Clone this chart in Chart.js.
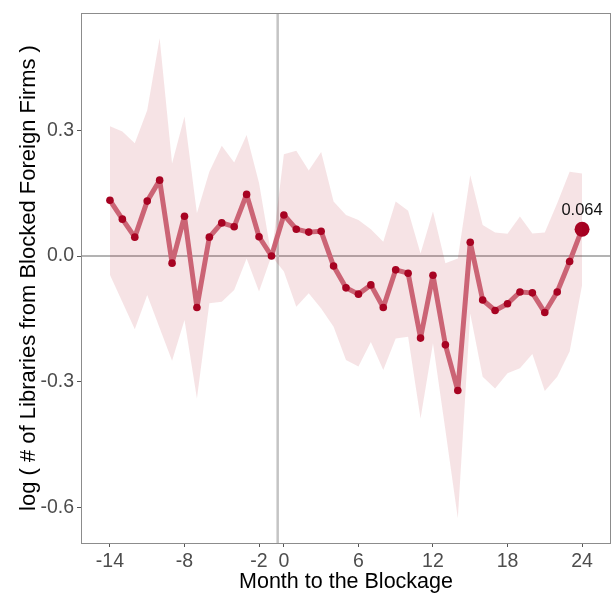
<!DOCTYPE html>
<html>
<head>
<meta charset="utf-8">
<script src="https://cdn.jsdelivr.net/npm/chart.js@4.4.1/dist/chart.umd.min.js"></script>
<style>
  html, body { margin: 0; padding: 0; background: #fff; }
  #wrap { width: 611px; height: 595px; }
</style>
</head>
<body>
<div id="wrap"><canvas id="blockage-chart" width="611" height="595"></canvas></div>
<script>
// event-study estimates, months relative to the blockage (-1 is the reference month)
const months = [-14, -13, -12, -11, -10, -9, -8, -7, -6, -5, -4, -3, -2, -1,
                 0, 1, 2, 3, 4, 5, 6, 7, 8, 9, 10, 11, 12, 13, 14, 15,
                 16, 17, 18, 19, 20, 21, 22, 23, 24];
const estimate = [0.133, 0.088, 0.045, 0.131, 0.181, -0.017, 0.095, -0.123, 0.045, 0.079, 0.070, 0.147, 0.046, 0.0,
                  0.098, 0.064, 0.057, 0.059, -0.024, -0.076, -0.091, -0.069, -0.123, -0.033, -0.041, -0.196, -0.046, -0.212, -0.321, 0.033,
                  -0.105, -0.130, -0.114, -0.086, -0.088, -0.135, -0.086, -0.013, 0.064];
const ciUpper = [0.310, 0.297, 0.269, 0.348, 0.520, 0.221, 0.333, 0.102, 0.201, 0.263, 0.223, 0.289, 0.174, 0.0,
                 0.243, 0.251, 0.204, 0.248, 0.130, 0.098, 0.086, 0.064, 0.034, 0.130, 0.108, 0.006, 0.106, -0.017, -0.006, 0.193,
                 0.074, 0.056, 0.053, 0.094, 0.054, 0.056, 0.126, 0.201, 0.197];
const ciLower = [-0.045, -0.110, -0.175, -0.093, -0.172, -0.250, -0.153, -0.340, -0.113, -0.109, -0.081, -0.006, -0.085, 0.0,
                 -0.037, -0.121, -0.089, -0.125, -0.169, -0.248, -0.264, -0.205, -0.272, -0.197, -0.193, -0.388, -0.208, -0.415, -0.626, -0.137,
                 -0.288, -0.316, -0.280, -0.268, -0.234, -0.322, -0.288, -0.228, -0.070];

const xTicks = [-14, -8, -2, 0, 6, 12, 18, 24];
const yTicks = [-0.6, -0.3, 0.0, 0.3];
const blockageMonth = -0.5;

const toPoints = (vals) => months.map((m, i) => ({ x: m, y: vals[i] }));

const lineColor = '#cf6f80';
const pointColor = '#a50021';
const bandColor = 'rgba(178, 24, 43, 0.12)';
const fontFamily = "'Liberation Sans', Arial, sans-serif";
const tickFont = { family: fontFamily, size: 19.5 };

// panel frame plus the zero line and the blockage line
const panelPlugin = {
    id: 'panel',
    beforeDatasetsDraw(chart) {
        const { ctx, chartArea, scales } = chart;
        ctx.save();
        ctx.strokeStyle = '#b3b3b3';
        ctx.lineWidth = 2;
        const y0 = scales.y.getPixelForValue(0);
        ctx.beginPath();
        ctx.moveTo(chartArea.left, y0);
        ctx.lineTo(chartArea.right, y0);
        ctx.stroke();
        const xb = scales.x.getPixelForValue(blockageMonth);
        ctx.strokeStyle = '#c4c4c4';
        ctx.lineWidth = 2.5;
        ctx.beginPath();
        ctx.moveTo(xb, chartArea.top);
        ctx.lineTo(xb, chartArea.bottom);
        ctx.stroke();
        ctx.restore();
    },
    afterDraw(chart) {
        const { ctx, chartArea } = chart;
        ctx.save();
        ctx.strokeStyle = '#8c8c8c';
        ctx.lineWidth = 1;
        ctx.strokeRect(chartArea.left + 0.5, chartArea.top + 0.5,
                       chartArea.right - chartArea.left - 1, chartArea.bottom - chartArea.top);
        ctx.restore();
    }
};

// value label over the last estimate
const lastLabelPlugin = {
    id: 'lastLabel',
    afterDatasetsDraw(chart) {
        const meta = chart.getDatasetMeta(2);
        const last = meta.data[meta.data.length - 1];
        const { ctx } = chart;
        ctx.save();
        ctx.fillStyle = '#111';
        ctx.font = "16.5px " + fontFamily;
        ctx.textAlign = 'center';
        ctx.textBaseline = 'bottom';
        ctx.fillText(estimate[estimate.length - 1].toFixed(3), last.x, last.y - 10);
        ctx.restore();
    }
};

const ctx = document.getElementById('blockage-chart').getContext('2d');
new Chart(ctx, {
    type: 'line',
    data: {
        datasets: [
            {
                label: 'upper',
                data: toPoints(ciUpper),
                borderWidth: 0,
                pointRadius: 0,
                backgroundColor: bandColor,
                fill: '+1',
                tension: 0
            },
            {
                label: 'lower',
                data: toPoints(ciLower),
                borderWidth: 0,
                pointRadius: 0,
                fill: false,
                tension: 0
            },
            {
                label: 'estimate',
                data: toPoints(estimate),
                borderColor: lineColor,
                borderWidth: 5,
                borderJoinStyle: 'round',
                fill: false,
                tension: 0,
                pointRadius: months.map((m, i) => i === months.length - 1 ? 7.5 : 3.8),
                pointBackgroundColor: pointColor,
                pointBorderWidth: 0
            }
        ]
    },
    options: {
        responsive: false,
        animation: false,
        layout: { autoPadding: false, padding: { top: 13, right: 0, left: 0, bottom: 0 } },
        plugins: {
            legend: { display: false },
            tooltip: { enabled: false }
        },
        scales: {
            x: {
                type: 'linear',
                min: -16.33,
                max: 26.33,
                afterBuildTicks: (scale) => { scale.ticks = xTicks.map(v => ({ value: v })); },
                afterFit: (scale) => {
                    scale.height = 52;
                    scale.paddingLeft = 0;
                    scale.paddingRight = 0;
                },
                grid: { drawOnChartArea: false, drawTicks: true, tickLength: 4, color: '#555', tickWidth: 1 },
                border: { display: false },
                ticks: {
                    font: tickFont,
                    color: '#4d4d4d',
                    padding: 3,
                    maxRotation: 0,
                    autoSkip: false,
                    callback: (v) => String(v)
                },
                title: {
                    display: true,
                    text: 'Month to the Blockage',
                    font: { family: fontFamily, size: 21.5 },
                    color: '#000',
                    padding: { top: 0, bottom: 0 }
                }
            },
            y: {
                type: 'linear',
                min: -0.685,
                max: 0.58,
                afterBuildTicks: (scale) => { scale.ticks = yTicks.map(v => ({ value: v })); },
                afterFit: (scale) => {
                    scale.width = 81;
                    scale.paddingTop = 0;
                    scale.paddingBottom = 0;
                },
                grid: { drawOnChartArea: false, drawTicks: true, tickLength: 4, color: '#555', tickWidth: 1 },
                border: { display: false },
                ticks: {
                    font: tickFont,
                    color: '#4d4d4d',
                    padding: 3,
                    callback: (v) => v.toFixed(1)
                },
                title: {
                    display: true,
                    text: 'log ( # of Libraries from Blocked Foreign Firms )',
                    font: { family: fontFamily, size: 22 },
                    color: '#000',
                    padding: { top: 16, bottom: 0 }
                }
            }
        }
    },
    plugins: [panelPlugin, lastLabelPlugin]
});
</script>
</body>
</html>
